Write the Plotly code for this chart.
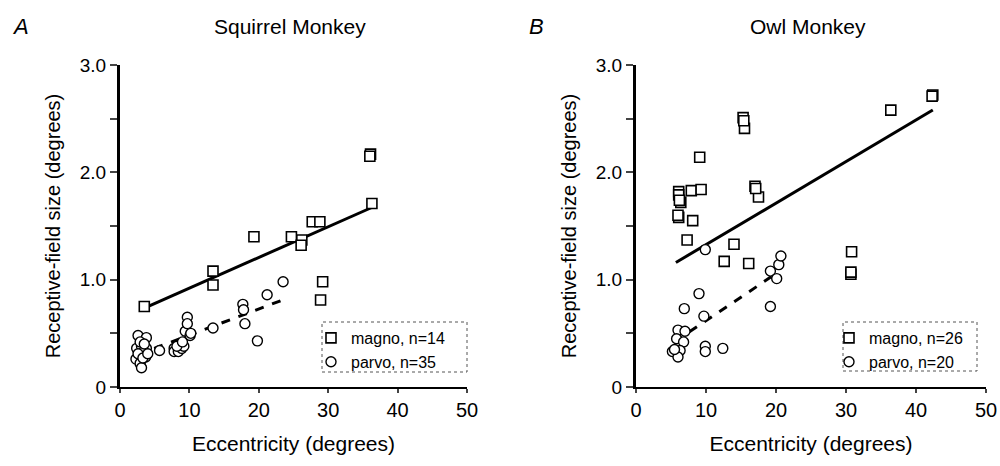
import plotly.graph_objects as go

# ---------------- data ----------------
# Panel A: Squirrel Monkey
sq_magno_x = [3.5, 13.4, 13.4, 19.3, 24.7, 26.2, 26.1, 27.7, 28.8, 29.2, 28.9, 36.1, 36.0, 36.3]
sq_magno_y = [0.75, 1.08, 0.95, 1.40, 1.40, 1.37, 1.32, 1.54, 1.54, 0.98, 0.81, 2.17, 2.15, 1.71]
sq_parvo_x = [2.6, 3.8, 2.4, 3.1, 3.8, 2.3, 2.9, 3.1, 3.7, 3.4, 5.7, 7.8, 7.8, 8.4, 8.9,
              9.2, 9.4, 10.1, 9.7, 9.7, 13.4, 17.7, 17.8, 18.0, 19.8, 21.2, 23.5,
              2.6, 3.3, 2.9, 3.5, 4.0, 8.2, 9.0, 10.2]
sq_parvo_y = [0.48, 0.46, 0.36, 0.38, 0.36, 0.26, 0.22, 0.18, 0.28, 0.33, 0.34, 0.36, 0.33, 0.33, 0.36,
              0.38, 0.52, 0.48, 0.65, 0.59, 0.55, 0.77, 0.72, 0.59, 0.43, 0.86, 0.98,
              0.31, 0.27, 0.42, 0.40, 0.31, 0.38, 0.42, 0.50]
sq_magno_fit_x = [3.5, 36.2]
sq_magno_fit_y = [0.735, 1.67]
sq_parvo_fit_x = [2.5, 23.4]
sq_parvo_fit_y = [0.30, 0.81]

# Panel B: Owl Monkey
ow_magno_x = [15.3, 15.5, 9.1, 6.1, 6.1, 6.4, 7.9, 9.3, 6.1, 8.1, 17.0, 17.5, 7.3, 14.0,
              12.6, 16.1, 36.4, 42.4, 30.8, 30.7, 6.2, 15.4, 17.1, 42.3, 30.7, 6.0]
ow_magno_y = [2.51, 2.41, 2.14, 1.82, 1.79, 1.72, 1.83, 1.84, 1.58, 1.55, 1.87, 1.77, 1.37, 1.33,
              1.17, 1.15, 2.58, 2.72, 1.26, 1.05, 1.74, 2.48, 1.85, 2.71, 1.07, 1.60]
ow_parvo_x = [9.9, 9.0, 6.9, 9.7, 6.0, 7.0, 5.8, 6.8, 5.2, 6.3, 6.0, 9.9, 9.9, 12.4,
              19.2, 19.2, 20.1, 20.4, 20.7, 5.5]
ow_parvo_y = [1.28, 0.87, 0.73, 0.66, 0.53, 0.52, 0.45, 0.42, 0.33, 0.34, 0.28, 0.38, 0.33, 0.36,
              0.75, 1.08, 1.01, 1.14, 1.22, 0.35]
ow_magno_fit_x = [5.7, 42.4]
ow_magno_fit_y = [1.16, 2.58]
ow_parvo_fit_x = [5.5, 20.3]
ow_parvo_fit_y = [0.42, 1.07]

x_ticks = [0, 10, 20, 30, 40, 50]
y_ticks = [0, 0.5, 1, 1.5, 2, 2.5, 3]
y_ticktext = ["0", "", "1.0", "", "2.0", "", "3.0"]

FONT = "Liberation Sans, Arial, Helvetica, sans-serif"

# the page's body margin is removed (post_script), so the figure fills the 1000x466 window
W, H, OFF = 1000.0, 466.0, 0.0


def px(v):
    return (v - OFF) / W


def py(v):
    return 1 - (v - OFF) / H


fig = go.Figure()


def add_panel(xa, ya, legend, mx, my, ppx, ppy, mfx, mfy, pfx, pfy, nm, np_):
    fig.add_trace(go.Scatter(x=mfx, y=mfy, mode="lines", xaxis=xa, yaxis=ya,
                             line=dict(color="black", width=3), showlegend=False,
                             hoverinfo="skip"))
    fig.add_trace(go.Scatter(x=pfx, y=pfy, mode="lines", xaxis=xa, yaxis=ya,
                             line=dict(color="black", width=3, dash="dash"), showlegend=False,
                             hoverinfo="skip"))
    fig.add_trace(go.Scatter(x=mx, y=my, mode="markers", xaxis=xa, yaxis=ya,
                             name=f"magno, n={nm}", legend=legend,
                             marker=dict(symbol="square", size=10, color="white",
                                         line=dict(color="black", width=1.6))))
    fig.add_trace(go.Scatter(x=ppx, y=ppy, mode="markers", xaxis=xa, yaxis=ya,
                             name=f"parvo, n={np_}", legend=legend,
                             marker=dict(symbol="circle", size=10, color="white",
                                         line=dict(color="black", width=1.4))))


add_panel("x", "y", "legend", sq_magno_x, sq_magno_y, sq_parvo_x, sq_parvo_y,
          sq_magno_fit_x, sq_magno_fit_y, sq_parvo_fit_x, sq_parvo_fit_y, 14, 35)
add_panel("x2", "y2", "legend2", ow_magno_x, ow_magno_y, ow_parvo_x, ow_parvo_y,
          ow_magno_fit_x, ow_magno_fit_y, ow_parvo_fit_x, ow_parvo_fit_y, 26, 20)

ydom = [py(387), py(65)]

xcommon = dict(range=[0, 50], tickvals=x_ticks, ticks="outside", ticklen=4, tickwidth=2,
               showline=True, linecolor="black", linewidth=2, showgrid=False, zeroline=False,
               ticklabeloverflow="allow",
               tickfont=dict(family=FONT, size=20, color="black"), automargin=False,
               title=dict(text="Eccentricity (degrees)", font=dict(family=FONT, size=21, color="black"),
                          standoff=16))
ycommon = dict(range=[0, 3], tickvals=y_ticks, ticktext=y_ticktext, ticks="outside", ticklen=7,
               tickwidth=2, showline=True, linecolor="black", linewidth=3, showgrid=False,
               zeroline=False, ticklabeloverflow="allow",
               tickfont=dict(family=FONT, size=19, color="black"), automargin=False,
               title=dict(text="Receptive-field size (degrees)",
                          font=dict(family=FONT, size=20, color="black"), standoff=14))

legend_common = dict(xanchor="left", yanchor="top", bgcolor="rgba(255,255,255,0)", borderwidth=0,
                     tracegroupgap=0, font=dict(family=FONT, size=16, color="black"))

fig.update_layout(
    width=int(W), height=int(H),
    margin=dict(l=0, r=0, t=0, b=0),
    paper_bgcolor="white", plot_bgcolor="white",
    xaxis=dict(domain=[px(120), px(467)], anchor="y", **xcommon),
    yaxis=dict(domain=ydom, anchor="x", **ycommon),
    xaxis2=dict(domain=[px(636), px(986)], anchor="y2", **xcommon),
    yaxis2=dict(domain=ydom, anchor="x2", **ycommon),
    legend=dict(x=px(311), y=py(321), **legend_common),
    legend2=dict(x=px(829), y=py(321), **legend_common),
    shapes=[
        dict(type="rect", xref="paper", yref="paper", x0=px(322), x1=px(467),
             y0=py(372), y1=py(322), line=dict(color="#555", width=1, dash="dot")),
        dict(type="rect", xref="paper", yref="paper", x0=px(843), x1=px(977),
             y0=py(371), y1=py(322), line=dict(color="#555", width=1, dash="dot")),
    ],
    annotations=[
        dict(text="<i>A</i>", x=px(10), y=py(27), xref="paper", yref="paper",
             xanchor="left", yanchor="middle", showarrow=False,
             font=dict(family=FONT, size=22, color="black")),
        dict(text="<i>B</i>", x=px(527), y=py(27), xref="paper", yref="paper",
             xanchor="left", yanchor="middle", showarrow=False,
             font=dict(family=FONT, size=22, color="black")),
        dict(text="Squirrel Monkey", x=px(290), y=py(27), xref="paper", yref="paper",
             xanchor="center", yanchor="middle", showarrow=False,
             font=dict(family=FONT, size=21, color="black")),
        dict(text="Owl Monkey", x=px(808), y=py(27), xref="paper", yref="paper",
             xanchor="center", yanchor="middle", showarrow=False,
             font=dict(family=FONT, size=21, color="black")),
    ],
)

fig.write_html("out.html",
               config={"displayModeBar": False},
               post_script="document.body.style.margin='0px';"
                           "document.body.style.overflow='hidden';")
